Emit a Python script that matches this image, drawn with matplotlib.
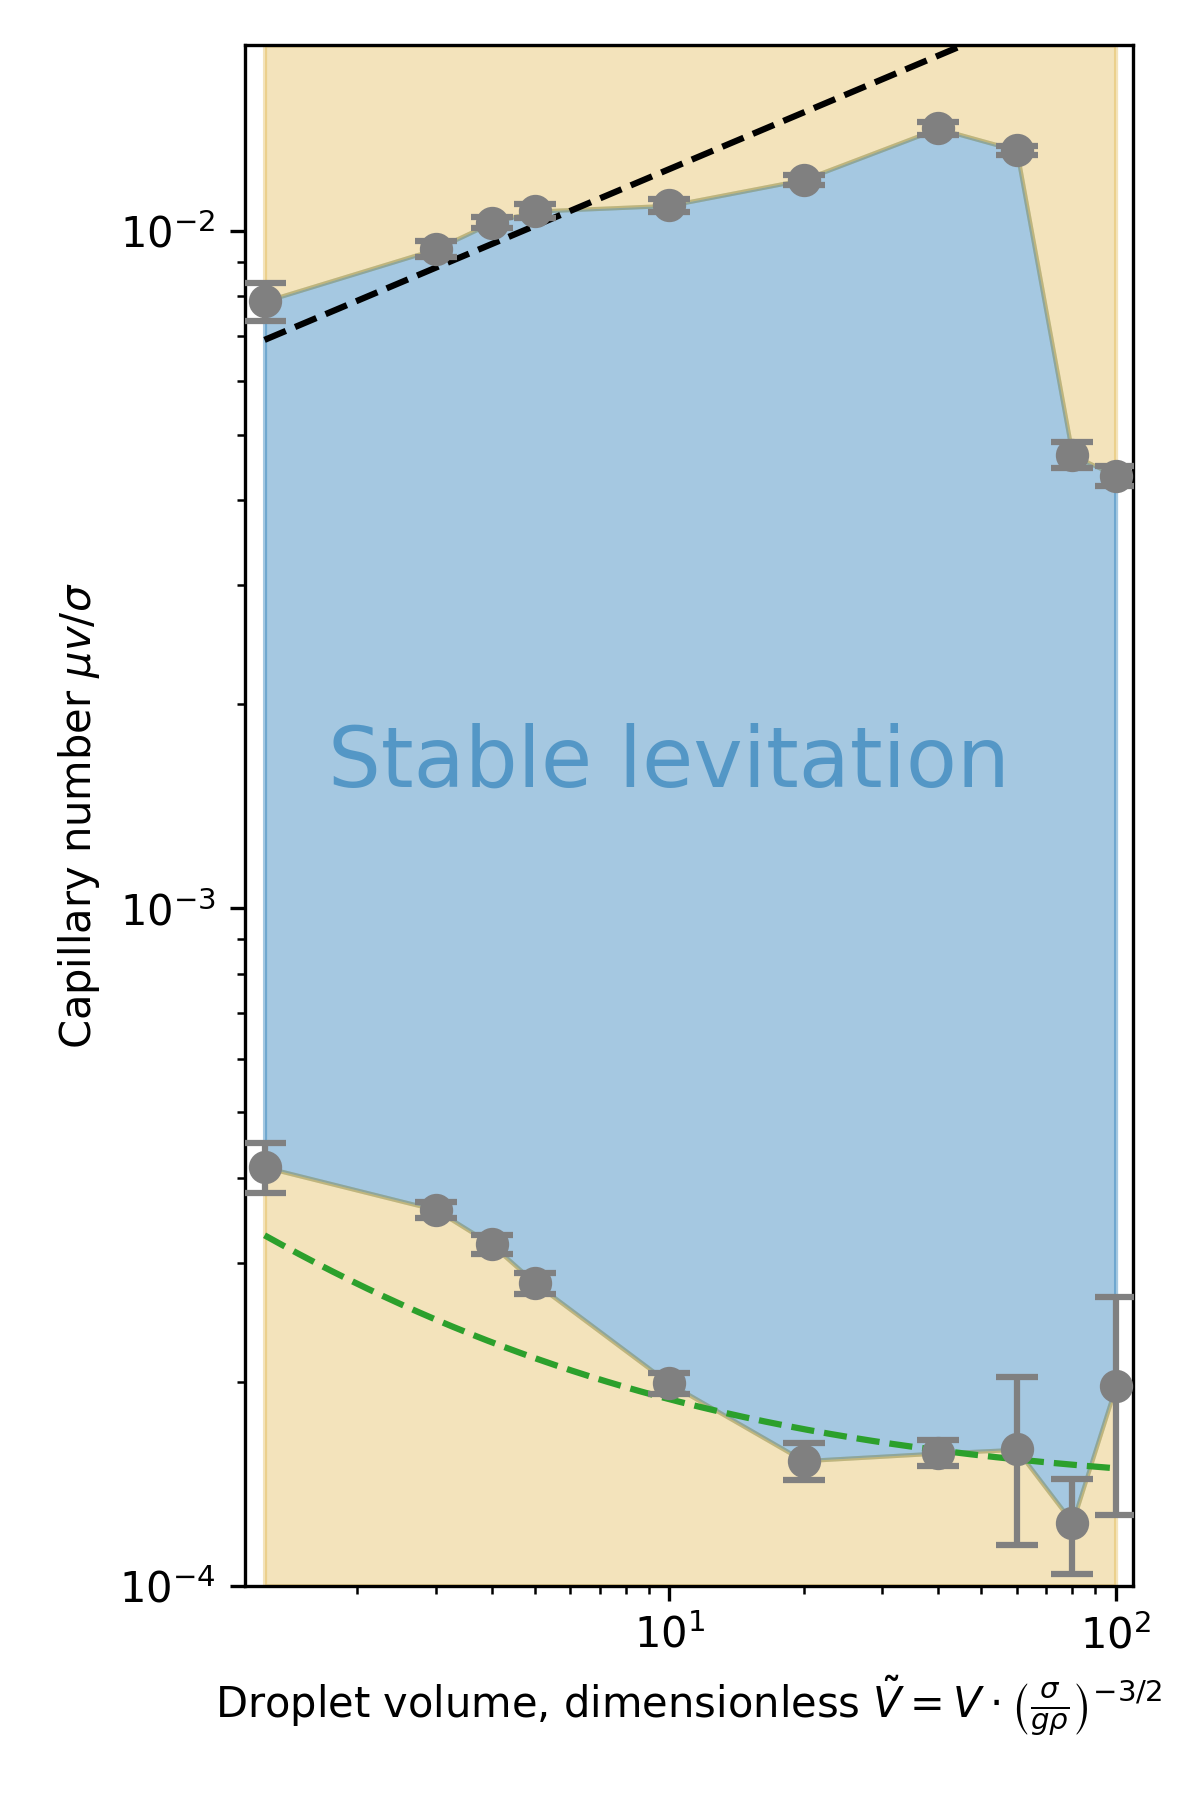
#!/usr/bin/env python3
import numpy as np
import matplotlib
matplotlib.use('Agg')
import matplotlib.pyplot as plt

# droplet volume (dimensionless)
volume = np.array([1.24, 3, 4, 5, 10, 20, 40, 60, 80, 100])
# upper boundary of stable levitation (capillary number)
ca_upper = np.array([0.00787, 0.0094, 0.01028, 0.01069, 0.0109, 0.0119, 0.01416, 0.01315, 0.00467, 0.00435])
ca_upper_err = np.array([0.0005, 0.00025, 0.0002, 0.00025, 0.00025, 0.0002, 0.00033, 0.0002, 0.0002, 0.00015])
# lower boundary
ca_lower = np.array([0.000415, 0.000359, 0.000319, 0.00028, 0.000199, 0.000153, 0.000157, 0.000159, 0.000124, 0.000197])
ca_lower_err = np.array([0.000035, 0.00001, 0.00001, 0.00001, 0.000007, 0.0000095, 0.000007, 0.000044, 0.00002, 0.00007])

# model curves
upper_coef, upper_exp = 0.0065, 0.278
lower_const, lower_coef, lower_exp = 0.000137, 0.00022, -0.63

YMIN, YMAX = 1e-4, 0.0188


def main():
    fig = plt.figure(figsize=(4, 6), dpi=300)
    ax = fig.add_axes([0.204, 0.119, 0.740, 0.856])

    # regions
    ax.fill_between(volume, ca_lower, ca_upper, color='C0', alpha=0.4)
    ax.fill_between(volume, ca_upper, YMAX, color='goldenrod', alpha=0.3)
    ax.fill_between(volume, YMIN, ca_lower, color='goldenrod', alpha=0.3)

    # scaling laws
    xs = np.logspace(np.log10(volume[0]), np.log10(volume[-1]), 200)
    ax.plot(xs, upper_coef * xs**upper_exp, 'k--', lw=1.5)
    ax.plot(xs, lower_const + lower_coef * xs**lower_exp, '--', color='C2', lw=1.5)

    # measurements
    for ca, err in [(ca_upper, ca_upper_err), (ca_lower, ca_lower_err)]:
        ax.errorbar(volume, ca, yerr=err, fmt='o', color='grey', ms=7,
                    elinewidth=1.5, capsize=5, capthick=1.5, zorder=5)

    ax.text(10, 1.64e-3, 'Stable levitation', color='C0', alpha=0.6,
            fontsize=20, ha='center', va='center')

    ax.set_xscale('log')
    ax.set_yscale('log')
    ax.set_xlim(1.12, 109.3)
    ax.set_ylim(YMIN, YMAX)
    ax.set_xlabel(r'Droplet volume, dimensionless $\tilde{V} = V\cdot\left(\frac{\sigma}{g\rho}\right)^{-3/2}$', fontsize=10)
    ax.set_ylabel(r'Capillary number $\mu v/\sigma$', fontsize=10)

    fig.savefig('out.png', dpi=300)
    plt.close(fig)


if __name__ == "__main__":
    main()
